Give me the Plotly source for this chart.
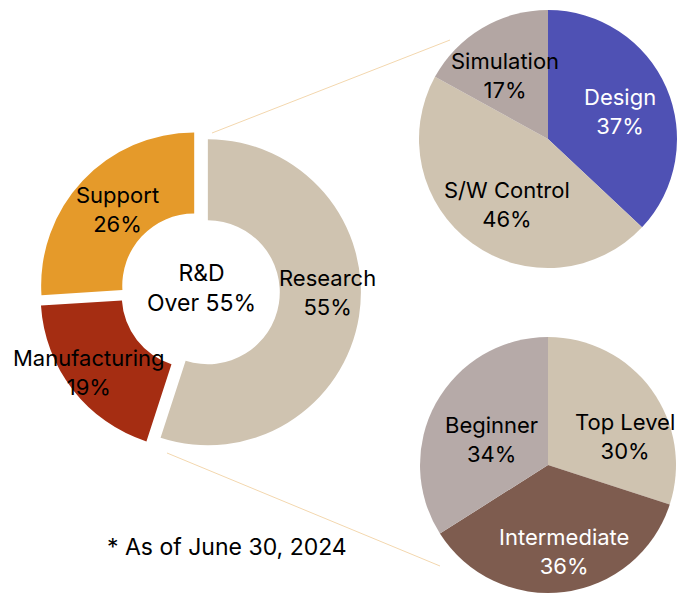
import plotly.graph_objects as go

# main donut: R&D split
main_labels = ["Research", "Manufacturing", "Support"]
main_values = [55, 19, 26]
main_colors = ["#cfc3b0", "#a52d12", "#e59a2a"]

# top pie: Research breakdown
top_labels = ["Design", "S/W Control", "Simulation"]
top_values = [37, 46, 17]
top_colors = ["#4f51b4", "#cfc3b0", "#b3a6a3"]

# bottom pie: level breakdown
bot_labels = ["Top Level", "Intermediate", "Beginner"]
bot_values = [30, 36, 34]
bot_colors = ["#cfc3b0", "#7e5c4f", "#b6aaa8"]

W, H = 681, 605
FONT = "Inter, Roboto, sans-serif"


def px_x(x):
    return x / W


def px_y(y):
    return 1 - y / H


fig = go.Figure()

fig.add_trace(go.Pie(
    labels=main_labels, values=main_values, hole=0.47, sort=False,
    direction="clockwise", rotation=0, pull=[0.052] * 3,
    marker=dict(colors=main_colors, line=dict(width=0)),
    textinfo="none", hoverinfo="label+percent",
    domain=dict(x=[px_x(39), px_x(361)], y=[px_y(452), px_y(130)]),
))
fig.add_trace(go.Pie(
    labels=top_labels, values=top_values, sort=False,
    direction="clockwise", rotation=0,
    marker=dict(colors=top_colors, line=dict(width=0)),
    textinfo="none", hoverinfo="label+percent",
    domain=dict(x=[px_x(419), px_x(677)], y=[px_y(268), px_y(10)]),
))
fig.add_trace(go.Pie(
    labels=bot_labels, values=bot_values, sort=False,
    direction="clockwise", rotation=0,
    marker=dict(colors=bot_colors, line=dict(width=0)),
    textinfo="none", hoverinfo="label+percent",
    domain=dict(x=[px_x(420), px_x(676)], y=[px_y(593), px_y(337)]),
))

# label positions (pixel centres) and text colours
label_pos = {
    "Research": (327, 292, "black"),
    "Manufacturing": (89, 372, "black"),
    "Support": (117, 209, "black"),
    "Design": (620, 112, "white"),
    "S/W Control": (507, 204, "black"),
    "Simulation": (505, 76, "black"),
    "Top Level": (625, 436, "black"),
    "Intermediate": (564, 551, "white"),
    "Beginner": (492, 439, "black"),
}
all_pairs = (list(zip(main_labels, main_values)) + list(zip(top_labels, top_values))
             + list(zip(bot_labels, bot_values)))
for name, val in all_pairs:
    x, y, c = label_pos[name]
    fig.add_annotation(x=px_x(x), y=px_y(y), xref="paper", yref="paper",
                       xanchor="center", yanchor="middle",
                       text=f"{name}<br>{val}%", showarrow=False,
                       font=dict(family=FONT, size=22, color=c))

fig.add_annotation(x=px_x(201), y=px_y(288), xref="paper", yref="paper",
                   xanchor="center", yanchor="middle",
                   text="R&D<br>Over 55%", showarrow=False,
                   font=dict(family=FONT, size=23, color="black"))
fig.add_annotation(x=px_x(227), y=px_y(547), xref="paper", yref="paper",
                   xanchor="center", yanchor="middle",
                   text="* As of June 30, 2024", showarrow=False,
                   font=dict(family=FONT, size=23, color="black"))

# connector lines from donut to the two pies
for x0, y0, x1, y1 in [(212, 133, 450, 40), (167, 453, 440, 566)]:
    fig.add_shape(type="line", xref="paper", yref="paper", layer="below",
                  x0=px_x(x0), y0=px_y(y0), x1=px_x(x1), y1=px_y(y1),
                  line=dict(color="#f3d7ae", width=1))

fig.update_layout(
    width=W, height=H, showlegend=False,
    margin=dict(l=0, r=0, t=0, b=0),
    paper_bgcolor="white", plot_bgcolor="white",
)

# drop the default page margin so the figure fills the window exactly
fig.write_html("out.html", config={"displayModeBar": False},
               post_script="document.body.style.margin='0';"
                           "document.body.style.overflow='hidden';")
